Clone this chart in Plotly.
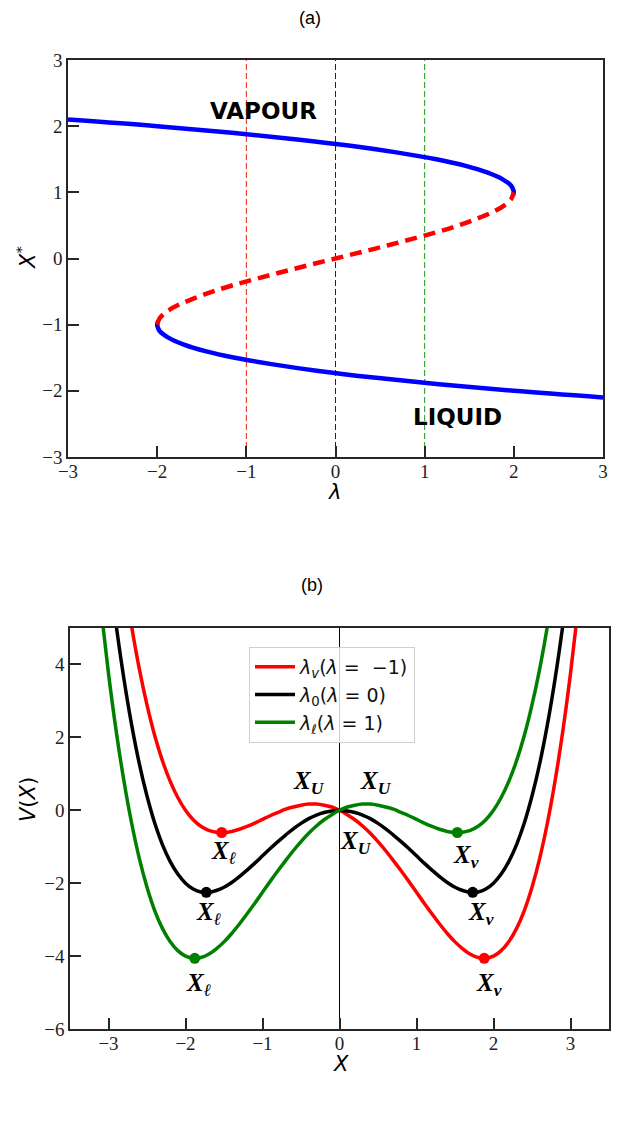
import plotly.graph_objects as go

# ---------------- Panel (a): equilibrium X* vs lambda ----------------
upper_X = [0.95, 1.0, 1.05, 1.1, 1.2, 1.3, 1.4, 1.5, 1.6, 1.7, 1.8, 1.9, 2.0, 2.1]
upper_lam = [1.99, 2.0, 1.99, 1.97, 1.87, 1.70, 1.46, 1.13, 0.70, 0.19, -0.43, -1.16, -2.0, -3.0]

middle_X = [-1.0, -0.9, -0.8, -0.7, -0.6, -0.5, -0.4, -0.3, -0.2, -0.1, 0.0,
            0.1, 0.2, 0.3, 0.4, 0.5, 0.6, 0.7, 0.8, 0.9, 1.0]
middle_lam = [-2.0, -1.97, -1.89, -1.76, -1.58, -1.38, -1.14, -0.87, -0.59, -0.30, 0.0,
              0.30, 0.59, 0.87, 1.14, 1.38, 1.58, 1.76, 1.89, 1.97, 2.0]

lower_X = [-2.1, -2.0, -1.9, -1.8, -1.7, -1.6, -1.5, -1.4, -1.3, -1.2, -1.1, -1.05, -1.0, -0.95]
lower_lam = [3.0, 2.0, 1.16, 0.43, -0.19, -0.70, -1.13, -1.46, -1.70, -1.87, -1.97, -1.99, -2.0, -1.99]

lambda_lines = [-1, 0, 1]
lambda_line_colors = ["#e8200c", "#222222", "#1a9a1a"]

# ---------------- Panel (b): potentials V(X) ----------------
X_vals = [-3.2, -3.1, -3.0, -2.9, -2.8, -2.7, -2.6, -2.5, -2.4, -2.3, -2.2, -2.1, -2.0,
          -1.9, -1.8, -1.7, -1.6, -1.5, -1.4, -1.3, -1.2, -1.1, -1.0, -0.9, -0.8, -0.7,
          -0.6, -0.5, -0.4, -0.3, -0.2, -0.1, 0.0, 0.1, 0.2, 0.3, 0.4, 0.5, 0.6, 0.7,
          0.8, 0.9, 1.0, 1.1, 1.2, 1.3, 1.4, 1.5, 1.6, 1.7, 1.8, 1.9, 2.0, 2.1, 2.2,
          2.3, 2.4, 2.5, 2.6, 2.7, 2.8, 2.9, 3.0, 3.1, 3.2]

V_red = [14.05, 11.77, 9.75, 7.97, 6.41, 5.05, 3.88, 2.89, 2.05, 1.36, 0.80, 0.35, 0.00,
         -0.26, -0.44, -0.55, -0.60, -0.61, -0.58, -0.52, -0.44, -0.35, -0.25, -0.15, -0.06, 0.03,
         0.09, 0.14, 0.17, 0.17, 0.14, 0.09, 0.00, -0.12, -0.26, -0.43, -0.63, -0.86, -1.11, -1.38,
         -1.66, -1.95, -2.25, -2.55, -2.84, -3.12, -3.38, -3.61, -3.80, -3.95, -4.04, -4.06, -4.00, -3.85, -3.60,
         -3.24, -2.75, -2.11, -1.32, -0.35, 0.81, 2.17, 3.75, 5.57, 7.65]

V_black = [10.85, 8.67, 6.75, 5.07, 3.61, 2.35, 1.28, 0.39, -0.35, -0.94, -1.40, -1.75, -2.00,
           -2.16, -2.24, -2.25, -2.20, -2.11, -1.98, -1.82, -1.64, -1.45, -1.25, -1.05, -0.86, -0.68,
           -0.51, -0.36, -0.23, -0.13, -0.06, -0.02, 0.00, -0.02, -0.06, -0.13, -0.23, -0.36, -0.51, -0.68,
           -0.86, -1.05, -1.25, -1.45, -1.64, -1.82, -1.98, -2.11, -2.20, -2.25, -2.24, -2.16, -2.00, -1.75, -1.40,
           -0.94, -0.35, 0.39, 1.28, 2.35, 3.61, 5.07, 6.75, 8.67, 10.85]

V_green = [7.65, 5.57, 3.75, 2.17, 0.81, -0.35, -1.32, -2.11, -2.75, -3.24, -3.60, -3.85, -4.00,
           -4.06, -4.04, -3.95, -3.80, -3.61, -3.38, -3.12, -2.84, -2.55, -2.25, -1.95, -1.66, -1.38,
           -1.11, -0.86, -0.63, -0.43, -0.26, -0.12, 0.00, 0.09, 0.14, 0.17, 0.17, 0.14, 0.09, 0.03,
           -0.06, -0.15, -0.25, -0.35, -0.44, -0.52, -0.58, -0.61, -0.60, -0.55, -0.44, -0.26, 0.00, 0.35, 0.80,
           1.36, 2.05, 2.89, 3.88, 5.05, 6.41, 7.97, 9.75, 11.77, 14.05]

series_names = ["<i>λ</i><sub><i>v</i></sub>(<i>λ</i> =  −1)",
                "<i>λ</i><sub>0</sub>(<i>λ</i> = 0)",
                "<i>λ</i><sub><i>ℓ</i></sub>(<i>λ</i> = 1)"]
series_colors = ["#ff0000", "#000000", "#008000"]

# stationary points: minima (filled) and maxima (open)
min_X = [[-1.53, 1.88], [-1.73, 1.73], [-1.88, 1.53]]
min_V = [[-0.61, -4.06], [-2.25, -2.25], [-4.06, -0.61]]
max_X = [-0.35, 0.0, 0.35]
max_V = [0.17, 0.0, 0.17]

# point labels (b)
label_texts = ["U", "U", "U", "ℓ", "ℓ", "ℓ", "v", "v", "v"]
label_X = [-0.40, 0.48, 0.21, -1.51, -1.70, -1.83, 1.64, 1.84, 1.94]
label_V = [0.77, 0.77, -0.88, -1.17, -2.82, -4.77, -1.26, -2.82, -4.77]

W, H = 621, 1123

fig = go.Figure()

# ---- (a) traces
for lv, col in zip(lambda_lines, lambda_line_colors):
    fig.add_trace(go.Scatter(x=[lv, lv], y=[-3, 3], mode="lines",
                             line=dict(color=col, width=1, dash="6px,3px"),
                             showlegend=False, hoverinfo="skip", xaxis="x", yaxis="y"))

fig.add_trace(go.Scatter(x=upper_lam, y=upper_X, mode="lines",
                         line=dict(color="#0000ff", width=4.5, shape="spline"),
                         showlegend=False, xaxis="x", yaxis="y"))
fig.add_trace(go.Scatter(x=lower_lam, y=lower_X, mode="lines",
                         line=dict(color="#0000ff", width=4.5, shape="spline"),
                         showlegend=False, xaxis="x", yaxis="y"))
fig.add_trace(go.Scatter(x=middle_lam, y=middle_X, mode="lines",
                         line=dict(color="#ff0000", width=4.5, dash="12px,7px", shape="spline"),
                         showlegend=False, xaxis="x", yaxis="y"))

# ---- (b) traces
fig.add_trace(go.Scatter(x=[0, 0], y=[-6, 5], mode="lines",
                         line=dict(color="#000000", width=1),
                         showlegend=False, hoverinfo="skip", xaxis="x2", yaxis="y2"))

for name, col, V in zip(series_names, series_colors, [V_red, V_black, V_green]):
    fig.add_trace(go.Scatter(x=X_vals, y=V, mode="lines", name=name,
                             line=dict(color=col, width=3.5, shape="spline"),
                             xaxis="x2", yaxis="y2"))

for col, mx, mv, xx, vv in zip(series_colors, min_X, min_V, max_X, max_V):
    fig.add_trace(go.Scatter(x=mx, y=mv, mode="markers",
                             marker=dict(color=col, size=11),
                             showlegend=False, xaxis="x2", yaxis="y2"))
    fig.add_trace(go.Scatter(x=[xx], y=[vv], mode="markers",
                             marker=dict(color="rgba(0,0,0,0)", size=11, symbol="circle-open",
                                         line=dict(color=col if col != "#000000" else "#555555", width=1.3)),
                             showlegend=False, xaxis="x2", yaxis="y2"))

axis_common = dict(showline=True, linecolor="#262626", linewidth=1.5, mirror=True,
                   ticks="inside", ticklen=11, tickwidth=1.5, tickcolor="#262626",
                   showgrid=False, zeroline=False, automargin=False,
                   tickfont=dict(family="Liberation Serif", size=19, color="#222222"))

dom_a_x = [68 / W, 603 / W]
dom_a_y = [1 - 457 / H, 1 - 60 / H]
dom_b_x = [70 / W, 609 / W]
dom_b_y = [1 - 1029 / H, 1 - 628 / H]

fig.update_layout(
    width=W, height=H, autosize=False,
    margin=dict(l=0, r=0, t=0, b=0, pad=0, autoexpand=False),
    paper_bgcolor="white", plot_bgcolor="white",
    xaxis=dict(domain=dom_a_x, range=[-3, 3], tickvals=[-3, -2, -1, 0, 1, 2, 3], anchor="y",
               ticklabelstandoff=-4, **axis_common),
    yaxis=dict(domain=dom_a_y, range=[-3, 3], tickvals=[-3, -2, -1, 0, 1, 2, 3], anchor="x", **axis_common),
    xaxis2=dict(domain=dom_b_x, range=[-3.5, 3.5], tickvals=[-3, -2, -1, 0, 1, 2, 3], anchor="y2",
                ticklabelstandoff=-4, **axis_common),
    yaxis2=dict(domain=dom_b_y, range=[-6, 5], tickvals=[-6, -4, -2, 0, 2, 4], anchor="x2", **axis_common),
    legend=dict(x=249 / W, y=1 - 647 / H, xanchor="left", yanchor="top",
                bgcolor="rgba(255,255,255,0.8)", bordercolor="#d0d0d0", borderwidth=1,
                font=dict(family="DejaVu Sans", size=19, color="#111111"),
                itemwidth=40, tracegroupgap=0),
    showlegend=True,
)

ann = []


def add_paper_text(text, px, py, size, family, angle=0):
    ann.append(dict(text=text, x=px / W, y=1 - py / H, xref="paper", yref="paper",
                    xanchor="center", yanchor="middle", showarrow=False, textangle=angle,
                    font=dict(family=family, size=size, color="#000")))


# panel titles
add_paper_text("(a)", 310, 18, 18, "Liberation Sans")
add_paper_text("(b)", 312, 585, 18, "Liberation Sans")
# axis titles
add_paper_text("<i>λ</i>", 335, 492, 21, "DejaVu Sans")
add_paper_text("<i>X</i><sup>*</sup>", 26, 258, 21, "DejaVu Sans", -90)
add_paper_text("<i>X</i>", 341, 1064, 21, "DejaVu Sans")
add_paper_text("<i>V</i>(<i>X</i>)", 28, 800, 21, "DejaVu Sans", -90)

# phase labels in (a)
ann.append(dict(text="<b>VAPOUR</b>", x=-0.81, y=2.23, xref="x", yref="y", showarrow=False,
                xanchor="center", yanchor="middle",
                font=dict(family="DejaVu Sans", size=23, color="#000")))
ann.append(dict(text="<b>LIQUID</b>", x=1.37, y=-2.39, xref="x", yref="y", showarrow=False,
                xanchor="center", yanchor="middle",
                font=dict(family="DejaVu Sans", size=23, color="#000")))
# point labels in (b)
for t, lx, lv in zip(label_texts, label_X, label_V):
    ann.append(dict(text="<b><i>X</i></b><sub><b><i>" + t + "</i></b></sub>", x=lx, y=lv,
                    xref="x2", yref="y2", showarrow=False, xanchor="center", yanchor="middle",
                    font=dict(family="Liberation Serif", size=25, color="#000")))

fig.update_layout(annotations=ann)

fig.write_html("out.html")
